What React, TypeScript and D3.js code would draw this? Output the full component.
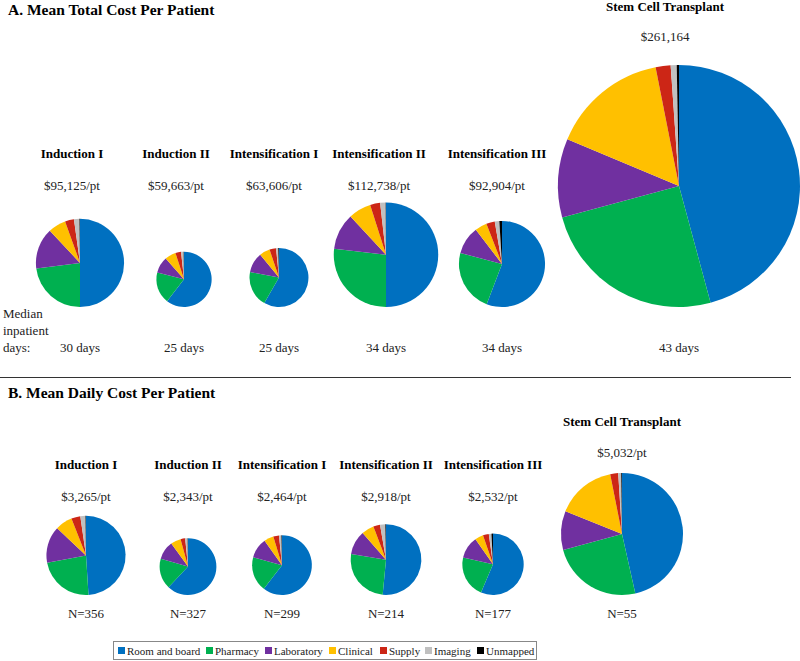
import React from "react";
import * as d3 from "d3";

const categories = ["Room and board", "Pharmacy", "Laboratory", "Clinical", "Supply", "Imaging", "Unmapped"];
const colors = ["#0070C0", "#00B050", "#7030A0", "#FFC000", "#CC2616", "#C0C0C0", "#000000"];
const phases = ["Induction I", "Induction II", "Intensification I", "Intensification II", "Intensification III", "Stem Cell Transplant"];
const totalCost = [95125, 59663, 63606, 112738, 92904, 261164];
const totalCostLabels = ["$95,125/pt", "$59,663/pt", "$63,606/pt", "$112,738/pt", "$92,904/pt", "$261,164"];
const medianDays = ["30 days", "25 days", "25 days", "34 days", "34 days", "43 days"];
const dailyCost = [3265, 2343, 2464, 2918, 2532, 5032];
const dailyCostLabels = ["$3,265/pt", "$2,343/pt", "$2,464/pt", "$2,918/pt", "$2,532/pt", "$5,032/pt"];
const patientsN = ["N=356", "N=327", "N=299", "N=214", "N=177", "N=55"];

// percent shares per category (Room, Pharmacy, Lab, Clinical, Supply, Imaging, Unmapped)
const totalShares = [
  [50, 23, 15, 6.5, 3.3, 2, 0.2],
  [60.5, 18.5, 9.5, 6.5, 3.3, 1.5, 0.2],
  [58.3, 19.7, 11, 5.8, 3.6, 1.2, 0.4],
  [50, 26.8, 11.3, 7, 3.1, 1.7, 0.1],
  [55.8, 23.3, 10.5, 4.5, 3.2, 1.7, 1],
  [45.8, 25, 10.5, 15.6, 2, 0.8, 0.3],
];
const dailyShares = [
  [49, 23, 15, 7, 3.7, 2.1, 0.2],
  [62, 17.5, 10.5, 5.8, 2.6, 1.4, 0.2],
  [60.4, 18.8, 10.9, 5.2, 3.1, 1.3, 0.3],
  [51.5, 26, 11, 5.7, 3.1, 2.4, 0.3],
  [56.4, 22.2, 11.7, 4.4, 3.1, 1.4, 0.8],
  [46.5, 24.3, 10.3, 15.8, 2.1, 0.8, 0.2],
];

// layout
const W = 800, H = 661;
const topLabelX = [72, 176, 274, 379, 497, 665];
const topPieX = [80, 184, 279, 386, 502, 679];
const topPieBottom = 307;
const botX = [86, 188, 282, 386, 493, 622];
const botPieBottom = 595;
const FONT = "'Liberation Serif', 'Times New Roman', serif";

const rTop = d3.scaleLinear().domain([0, d3.max(totalCost)!]).range([0, 121]);
const rBot = d3.scaleLinear().domain([0, d3.max(dailyCost)!]).range([0, 61]);
const pieGen = d3.pie<number>().sort(null).value((d) => d);

function Pie({ cx, cy, r, shares }: { cx: number; cy: number; r: number; shares: number[] }) {
  const arc = d3.arc<d3.PieArcDatum<number>>().innerRadius(0).outerRadius(r);
  return (
    <g transform={`translate(${cx},${cy})`}>
      {pieGen(shares).map((a, i) => (
        <path key={i} d={arc(a) || ""} fill={colors[i]} />
      ))}
    </g>
  );
}

export default function App() {
  const legendX = [118, 206, 265, 329, 380, 425, 477];
  return (
    <svg width={W} height={H} style={{ position: "absolute", left: 0, top: 0, background: "#fff" }} fontFamily={FONT}>
      <rect width={W} height={H} fill="#fff" />
      {/* Section A */}
      <text x={8} y={15} fontSize={15.5} fontWeight="bold">A. Mean Total Cost Per Patient</text>
      {phases.map((p, i) => {
        const r = rTop(totalCost[i]);
        const sct = i === 5;
        return (
          <g key={p}>
            <text x={topLabelX[i]} y={sct ? 11 : 158} fontSize={13} fontWeight="bold" textAnchor="middle">{p}</text>
            <text x={topLabelX[i]} y={sct ? 41 : 190} fontSize={13} textAnchor="middle" fill="#222">{totalCostLabels[i]}</text>
            <Pie cx={topPieX[i]} cy={topPieBottom - r} r={r} shares={totalShares[i]} />
            <text x={topPieX[i]} y={352} fontSize={13} textAnchor="middle" fill="#222">{medianDays[i]}</text>
          </g>
        );
      })}
      <text x={3} y={318} fontSize={13} fill="#222">Median</text>
      <text x={3} y={335} fontSize={13} fill="#222">inpatient</text>
      <text x={3} y={352} fontSize={13} fill="#222">days:</text>

      <line x1={0} x2={791} y1={377.5} y2={377.5} stroke="#333" strokeWidth={1} />

      {/* Section B */}
      <text x={8} y={398} fontSize={15.5} fontWeight="bold">B. Mean Daily Cost Per Patient</text>
      {phases.map((p, i) => {
        const r = rBot(dailyCost[i]);
        const sct = i === 5;
        return (
          <g key={"b" + p}>
            <text x={botX[i]} y={sct ? 426 : 469} fontSize={13} fontWeight="bold" textAnchor="middle">{p}</text>
            <text x={botX[i]} y={sct ? 457 : 501} fontSize={13} textAnchor="middle" fill="#222">{dailyCostLabels[i]}</text>
            <Pie cx={botX[i]} cy={botPieBottom - r} r={r} shares={dailyShares[i]} />
            <text x={botX[i]} y={618} fontSize={13} textAnchor="middle" fill="#222">{patientsN[i]}</text>
          </g>
        );
      })}

      {/* Legend */}
      <rect x={113.5} y={641.5} width={423} height={18} fill="#fff" stroke="#888" strokeWidth={1} />
      {categories.map((c, i) => (
        <g key={c}>
          <rect x={legendX[i]} y={647} width={7} height={7} fill={colors[i]} />
          <text x={legendX[i] + 9} y={655} fontSize={11} fill="#222">{c}</text>
        </g>
      ))}
    </svg>
  );
}
